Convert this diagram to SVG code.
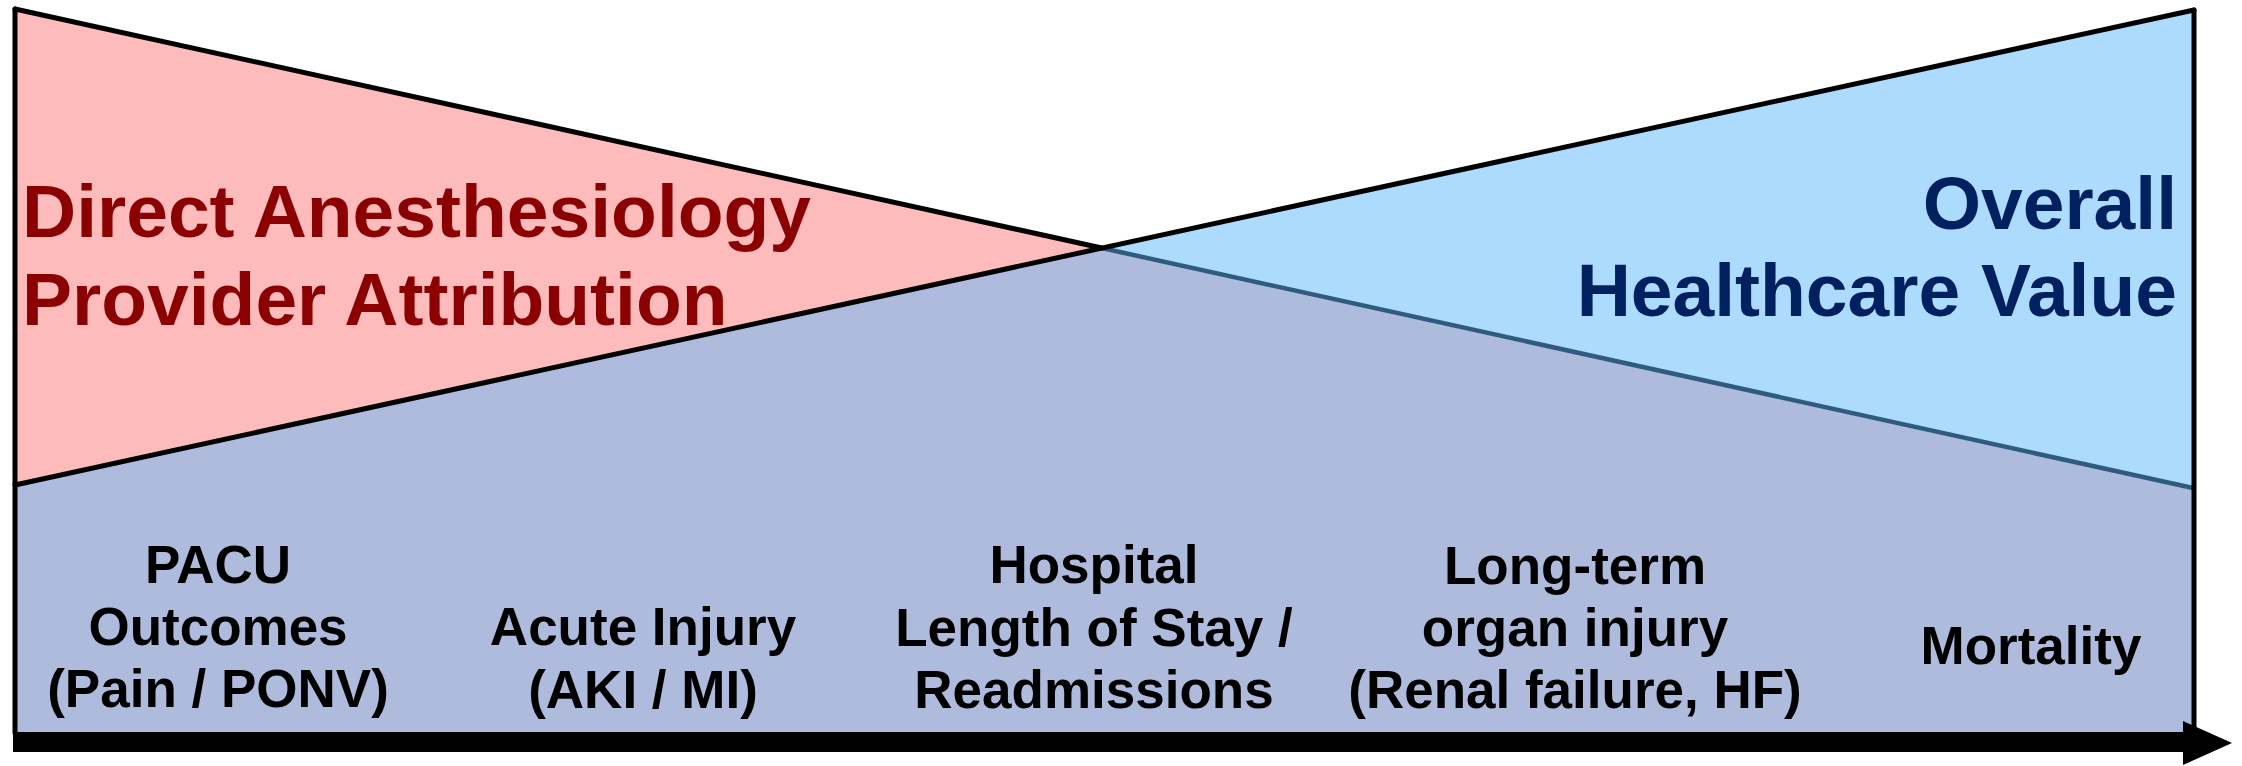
<svg xmlns="http://www.w3.org/2000/svg" width="2242" height="766" viewBox="0 0 2242 766">
<style>
.t{font-family:"Liberation Sans",Arial,sans-serif;font-weight:bold}
.title{font-size:75px}
.lab{font-size:53px;fill:#000;text-anchor:middle}
.edge{fill:none;stroke-linecap:round;stroke-linejoin:round}
</style>
<rect width="2242" height="766" fill="#fff"/>
<g id="red-triangle">
<polygon points="15,9 2193,488 15,485" fill="#FDBBBB"/>
</g>
<g id="blue-triangle">
<polygon points="2193,10 2193,488 15,485" fill="#ADDBFE"/>
</g>
<g id="overlap-band">
<polygon points="15,485 1101.7,248 2193,488 2193,732 15,732" fill="#AEBBDD"/>
</g>
<g id="connectors">
<line class="edge" x1="1101.7" y1="248" x2="2193" y2="488" stroke="#2F5B7F" stroke-width="4.5"/>
<line class="edge" x1="15" y1="9" x2="1101.7" y2="248" stroke="#000" stroke-width="5"/>
<line class="edge" x1="2194" y1="10" x2="15" y2="485" stroke="#000" stroke-width="5"/>
<line class="edge" x1="15" y1="9" x2="15" y2="733" stroke="#000" stroke-width="5"/>
<line class="edge" x1="2194" y1="10" x2="2194" y2="733" stroke="#000" stroke-width="5"/>
<rect x="13" y="732" width="2172" height="20" fill="#000"/>
<polygon points="2183,721 2232,743 2183,765" fill="#000"/>
</g>
<g id="title-left">
<text class="t title" fill="#8B0000" x="22" y="237">Direct Anesthesiology</text>
<text class="t title" fill="#8B0000" x="22" y="325">Provider Attribution</text>
</g>
<g id="title-right">
<text class="t title" fill="#002060" x="2177" y="229" text-anchor="end">Overall</text>
<text class="t title" fill="#002060" x="2177" y="316" text-anchor="end">Healthcare Value</text>
</g>
<g id="pacu">
<text class="t lab" x="218" y="583">PACU</text>
<text class="t lab" x="218" y="645">Outcomes</text>
<text class="t lab" x="218" y="707">(Pain / PONV)</text>
</g>
<g id="acute">
<text class="t lab" x="643" y="645">Acute Injury</text>
<text class="t lab" x="643" y="708">(AKI / MI)</text>
</g>
<g id="hospital">
<text class="t lab" x="1094" y="583">Hospital</text>
<text class="t lab" x="1094" y="646">Length of Stay /</text>
<text class="t lab" x="1094" y="708">Readmissions</text>
</g>
<g id="longterm">
<text class="t lab" x="1575" y="584">Long-term</text>
<text class="t lab" x="1575" y="646">organ injury</text>
<text class="t lab" x="1575" y="708">(Renal failure, HF)</text>
</g>
<g id="mortality">
<text class="t lab" x="2031" y="664">Mortality</text>
</g>
</svg>
